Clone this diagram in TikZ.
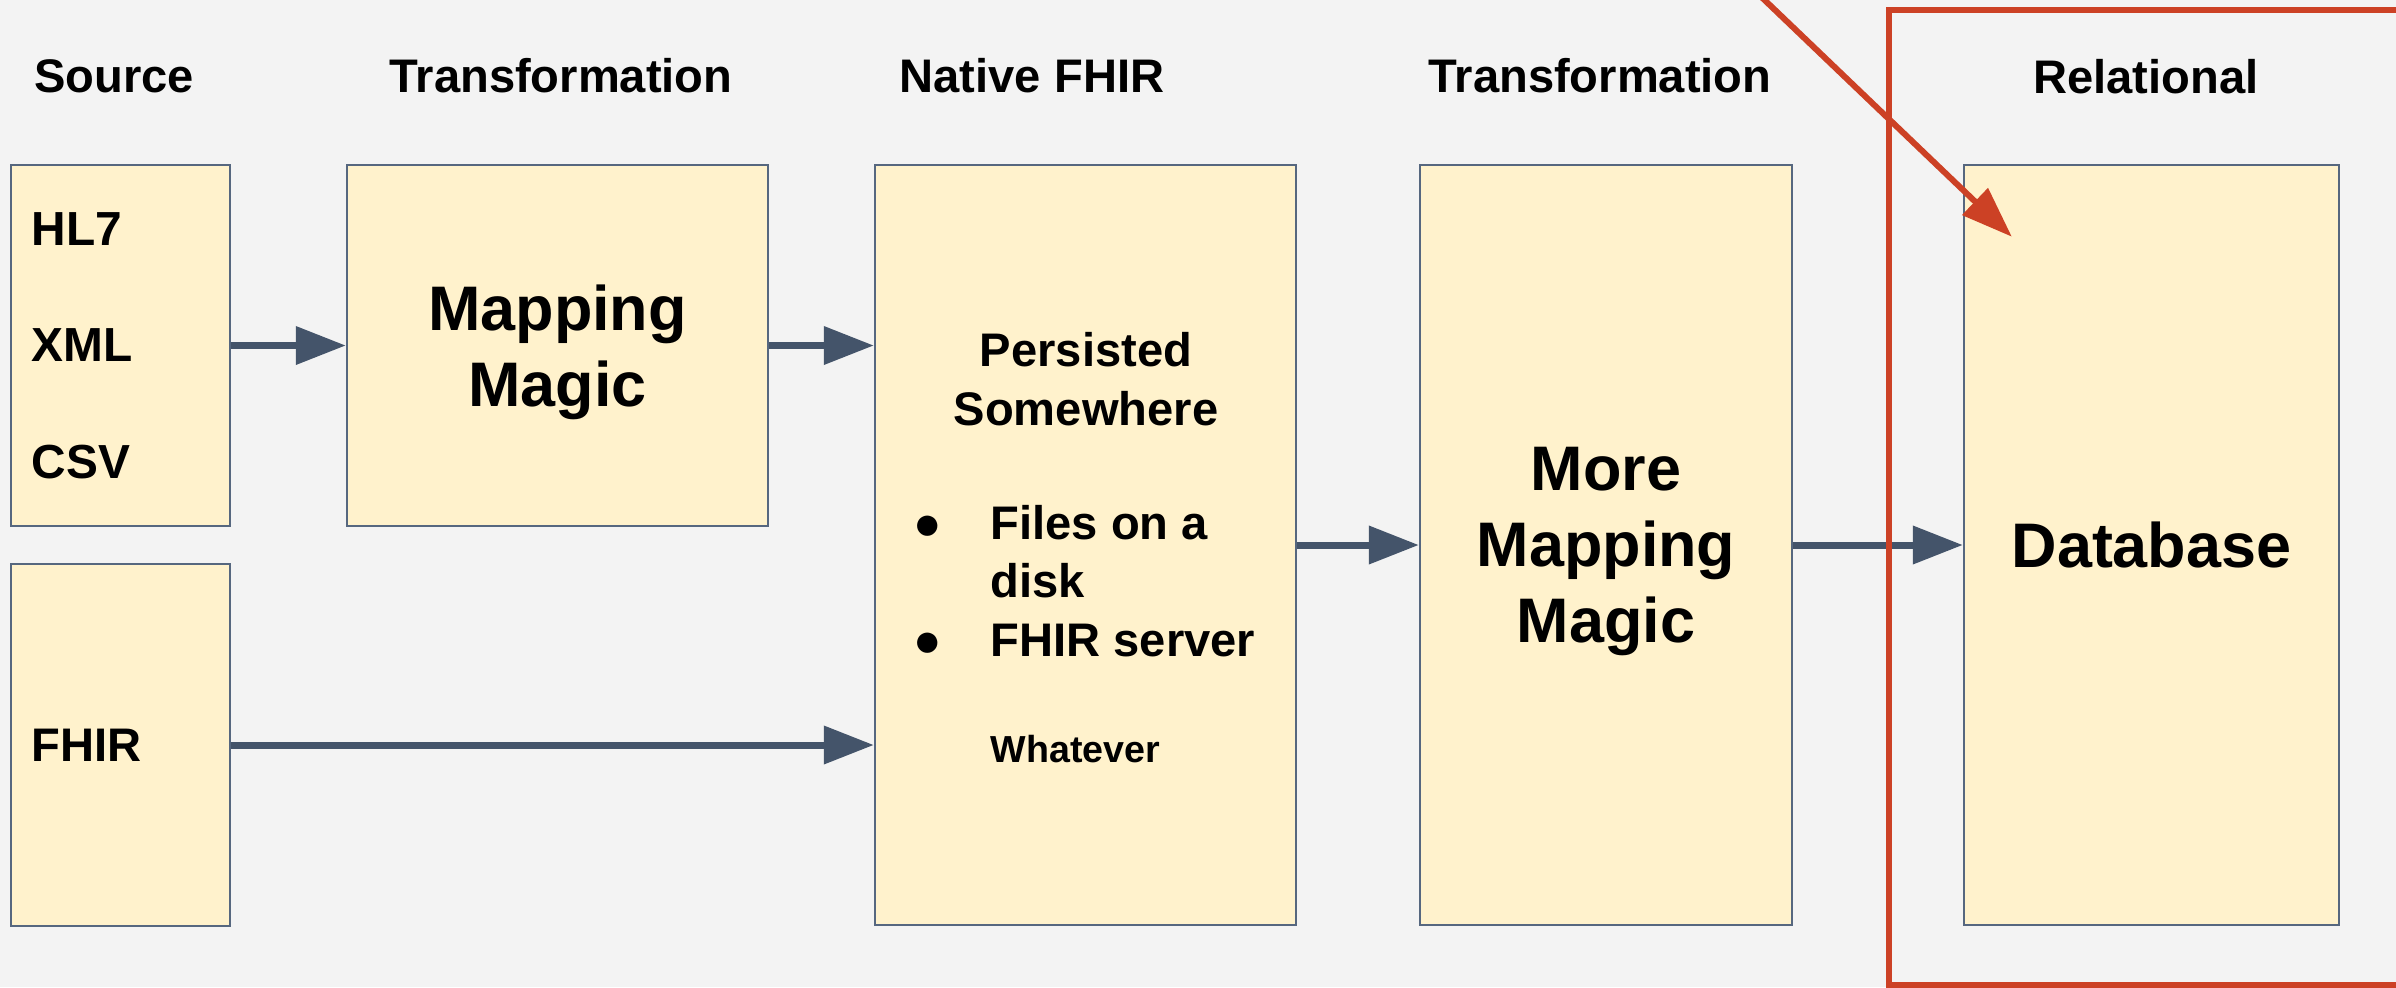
\documentclass[tikz,border=0pt]{standalone}
\usepackage{fontspec}
\setmainfont{Liberation Sans}
\usetikzlibrary{arrows.meta,calc}

\definecolor{paper}{HTML}{F3F3F3}
\definecolor{boxfill}{HTML}{FFF2CC}
\definecolor{boxline}{HTML}{56677F}
\definecolor{flow}{HTML}{44546A}
\definecolor{berry}{HTML}{CC4125}

\newcommand{\hdfont}{\fontsize{13.4}{16}\selectfont\bfseries}
\newcommand{\txtfont}{\fontsize{13.4}{16.5}\selectfont\bfseries}
\newcommand{\lstfont}{\fontsize{13.6}{33.1}\selectfont\bfseries}
\newcommand{\bigfont}{\fontsize{17.9}{21.6}\selectfont\bfseries}
\newcommand{\smfont}{\fontsize{10.7}{13}\selectfont\bfseries}

\begin{document}
\begin{tikzpicture}[x=0.01cm,y=-0.01cm,
>={Triangle[length=0.5cm,width=0.37cm]},
stage/.style ={rectangle, draw=boxline, line width=0.6pt, fill=boxfill, inner sep=0pt},
srcbox/.style ={stage, minimum width=2.19cm, text width=1.77cm, align=left},
magic/.style ={stage, font=\bigfont, align=center, text depth=0pt},
tallbox/.style ={magic, minimum height=7.6cm},
head/.style ={anchor=base, font=\hdfont},
note/.style ={inner sep=0pt, font=\txtfont},
flowline/.style ={->, draw=flow, line width=0.07cm},
hilite/.style ={draw=berry, line width=0.055cm}
]
\useasboundingbox (0,0) rectangle (2396,987);
\fill[paper] (0,0) rectangle (2396,987);
\clip (0,0) rectangle (2396,987);

\draw (114,92) node[head] (hsrc) {Source};
\draw (561,92) node[head] (hmap) {Transformation};
\draw (1032,92) node[head] (hnat) {Native FHIR};
\draw (1600,92) node[head] (hmore) {Transformation};
\draw (2146,93) node[head] (hrel) {Relational};

\draw (120.5,345.5) node[srcbox, minimum height=3.61cm, font=\lstfont] (src) {HL7\\XML\\CSV};
\draw (120.5,745) node[srcbox, minimum height=3.62cm, font=\txtfont] (fhirsrc) {FHIR};
\draw (557.5,345.5) node[magic, minimum width=4.21cm, minimum height=3.61cm] (map) {Mapping\\Magic};
\draw (1085.5,545) node[stage, minimum width=4.21cm, minimum height=7.6cm] (native) {};
\draw (1606,545) node[tallbox, minimum width=3.72cm] (more) {More\\Mapping\\Magic};
\draw (2151.5,545) node[tallbox, minimum width=3.75cm] (db) {Database};

\draw (1086,425) node[note, anchor=base, align=center] (persist) {Persisted\\Somewhere};
\draw (913,656) node[note, anchor=base west, align=left] (items) {\makebox[0.77cm][l]{●}Files on a\\\hspace*{0.77cm}disk\\\makebox[0.77cm][l]{●}FHIR server};
\draw (990,762) node[note, anchor=base west, font=\smfont] (whatever) {Whatever};

\draw[flowline] (src) -- (map);
\draw[flowline] (map.east) -- (map.east -| native.west);
\draw[flowline] (fhirsrc.east) -- (fhirsrc.east -| native.west);
\draw[flowline] (native) -- (more);
\draw[flowline] (more) -- (db);

\draw[hilite] (1889,10) rectangle (2430,985);
\coordinate (ptr) at (1752,-12);
\draw[hilite, line width=0.06cm, -{Triangle[length=0.51cm,width=0.36cm]}] (ptr) -- ($(db.north west)+(49,73)$);
\end{tikzpicture}
\end{document}
